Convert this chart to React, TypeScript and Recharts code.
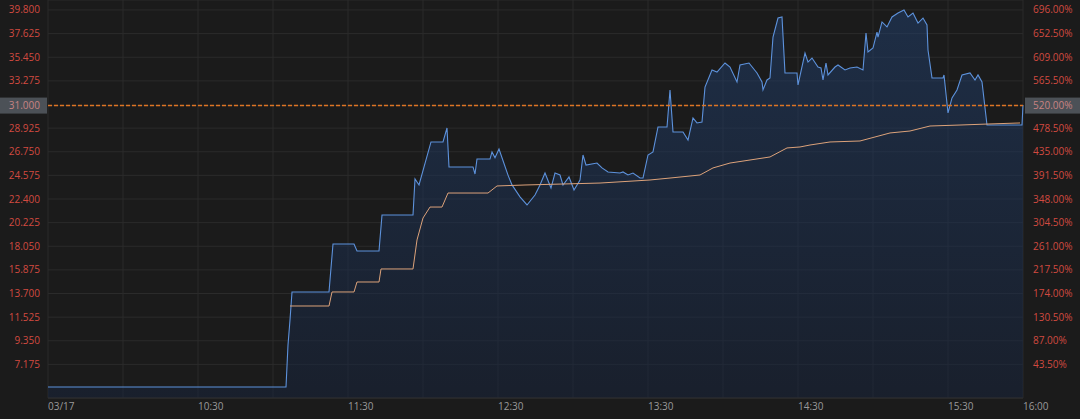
import React from 'react';
import { ComposedChart, Area, Line, XAxis, YAxis, CartesianGrid } from 'recharts';

// prices, time = minutes after 09:30
const priceMinutes = [
  0, 95.2, 96, 96.8, 97.6, 112.4, 114, 122.4, 123.6, 132.4, 133.6, 146, 146.8, 148.4, 153.2, 158,
  159.6, 160.4, 170, 170.8, 171.6, 176.8, 177.6, 178.8, 180.4, 184, 185.6, 188.8, 191.6, 194.8,
  196.8, 198.8, 201.2, 202.8, 204.8, 206, 208.4, 210.4, 212.8, 214, 215.2, 219.6, 221.6, 224,
  228.8, 230, 232, 234, 236.8, 238, 240, 242, 244, 247.6, 248.8, 250, 254, 256, 258, 259.6, 261.6,
  262.8, 265.6, 267.6, 270.8, 272.8, 275.6, 276.8, 280.4, 283.6, 285.6, 286, 287.6, 288.8, 290,
  292, 293.6, 294.8, 299.6, 300, 302.8, 304, 305.6, 308, 309.2, 310, 311.2, 312, 314.8, 316,
  318.8, 320.8, 323.6, 326, 327.2, 328, 330, 331.6, 332, 333.6, 335.6, 337.6, 340, 342.4, 344,
  346, 348, 350, 351.6, 352, 353.6, 358, 358.4, 360, 361.6, 363.6, 365.6, 368.8, 370.8, 372,
  373.6, 375.6, 389.6, 390,
];
const priceValues = [
  5.09, 5.09, 8.96, 11.26, 13.84, 13.84, 18.26, 18.26, 17.61, 17.61, 20.93, 20.93, 24.24, 23.69,
  27.65, 27.65, 28.94, 25.35, 25.35, 24.7, 26.08, 26.08, 26.73, 26.19, 27.0, 24.6, 23.7, 22.6,
  21.85, 22.77, 23.69, 24.79, 23.41, 24.79, 24.61, 23.69, 24.43, 23.23, 24.15, 26.45, 25.53,
  25.71, 25.26, 24.89, 24.79, 24.89, 24.61, 24.79, 24.33, 24.33, 26.45, 26.73, 29.03, 29.03,
  32.44, 28.57, 28.57, 27.83, 29.86, 29.4, 29.49, 32.71, 34.28, 34.09, 34.92, 34.55, 33.17,
  34.74, 34.92, 34.0, 33.17, 32.44, 33.36, 33.54, 37.31, 39.06, 39.16, 34.0, 34.0, 32.9, 35.84,
  35.01, 35.38, 34.55, 34.46, 33.36, 34.92, 33.82, 34.55, 34.74, 34.28, 34.46, 34.55, 34.28,
  37.68, 35.93, 36.3, 37.77, 37.31, 38.7, 38.24, 39.16, 39.52, 39.8, 39.16, 39.52, 38.6, 39.06,
  38.42, 36.12, 33.54, 33.54, 33.82, 30.32, 31.7, 32.44, 33.82, 34.0, 33.36, 33.82, 33.17, 29.21,
  29.21, 31.05,
];

// average price line
const avgMinutes = [
  96.8, 112.4, 113.6, 122.4, 123.6, 132.4, 133.2, 146, 147.6, 150, 152.8, 157.6, 160, 176, 179.6,
  190.8, 220.8, 240.8, 248.8, 260.8, 266, 272.8, 288.8, 295.6, 300.8, 304.8, 312.8, 324.8, 330.8,
  336.8, 344.8, 352.8, 364.8, 376.8, 388.8,
];
const avgValues = [
  12.55, 12.55, 13.84, 13.84, 14.76, 14.76, 15.96, 15.96, 18.63, 20.65, 21.66, 21.66, 22.95,
  22.95, 23.6, 23.69, 23.87, 24.15, 24.33, 24.61, 25.26, 25.71, 26.27, 27.1, 27.19, 27.37, 27.65,
  27.74, 28.11, 28.48, 28.66, 29.12, 29.21, 29.31, 29.4,
];

const prevClose = 5.0;
const lastPrice = 31.0;

const priceTicks = [
  7.175, 9.35, 11.525, 13.7, 15.875, 18.05, 20.225, 22.4, 24.575, 26.75, 28.925, 31.0, 33.275,
  35.45, 37.625, 39.8,
];
const timeTicks = [0, 30, 60, 90, 120, 150, 180, 210, 240, 270, 300, 330, 360, 390];
const timeTickLabels = [
  '03/17', '', '10:30', '', '11:30', '', '12:30', '', '13:30', '', '14:30', '', '15:30', '16:00',
];

const FONT = '"Open Sans", "Noto Sans", sans-serif';
const RED = '#d24a40';

// one table, every row also carries the last price for the dashed line
const rows = [
  ...priceMinutes.map((t, i) => ({ t, price: priceValues[i] })),
  ...avgMinutes.map((t, i) => ({ t, avg: avgValues[i] })),
]
  .sort((a, b) => a.t - b.t)
  .map((r) => ({ ...r, last: lastPrice }));

const pct = (v: number) => `${((v / prevClose - 1) * 100).toFixed(2)}%`;

function LeftTick({ x, y, payload }: any) {
  const v = payload.value;
  const hot = v === lastPrice;
  return (
    <g>
      {hot && <rect x={0} y={y - 8} width={47} height={16} fill="#4c5157" />}
      <text x={x} y={y} dy="0.35em" textAnchor="end" fill={hot ? '#c98383' : RED} fontSize={10} fontFamily={FONT}>
        {v.toFixed(3)}
      </text>
    </g>
  );
}

function RightTick({ x, y, payload }: any) {
  const v = payload.value;
  const hot = v === lastPrice;
  return (
    <g>
      {hot && <rect x={1025} y={y - 8} width={55} height={16} fill="#4c5157" />}
      <text x={x} y={y} dy="0.35em" textAnchor="start" fill={hot ? '#c98383' : RED} fontSize={10} fontFamily={FONT}>
        {pct(v)}
      </text>
    </g>
  );
}

function TimeTick({ x, y, payload }: any) {
  const label = timeTickLabels[timeTicks.indexOf(payload.value)];
  if (!label) return null;
  return (
    <text x={x} y={y + 5} dy="0.71em" textAnchor="start" fill="#9a9a9a" fontSize={10} fontFamily={FONT}>
      {label}
    </text>
  );
}

export default function App() {
  const domain: [number, number] = [4.08, 40.72];
  return (
    <div style={{ width: 1080, height: 419, background: '#1b1b1b' }}>
      <style>{'body{margin:0;background:#1b1b1b}'}</style>
      <ComposedChart width={1080} height={419} data={rows} margin={{ top: 0, right: 0, bottom: 0, left: 0 }}>
        <defs>
          <linearGradient id="priceFill" x1="0" y1="0" x2="0" y2="1">
            <stop offset="0%" stopColor="#21406f" stopOpacity={0.85} />
            <stop offset="100%" stopColor="#17243d" stopOpacity={0.85} />
          </linearGradient>
        </defs>
        <CartesianGrid yAxisId="left" stroke="#2b2b2b" strokeWidth={1} />
        <XAxis
          dataKey="t"
          type="number"
          domain={[0, 390]}
          ticks={timeTicks}
          interval={0}
          height={21}
          tickSize={0}
          tickMargin={0}
          axisLine={{ stroke: '#2f2f2f' }}
          tickLine={false}
          tick={<TimeTick />}
        />
        <YAxis
          yAxisId="left"
          orientation="left"
          type="number"
          domain={domain}
          allowDataOverflow
          ticks={priceTicks}
          interval={0}
          width={48}
          tickSize={0}
          tickMargin={8}
          axisLine={false}
          tickLine={false}
          tick={<LeftTick />}
        />
        <YAxis
          yAxisId="right"
          orientation="right"
          type="number"
          domain={domain}
          allowDataOverflow
          ticks={priceTicks}
          interval={0}
          width={57}
          tickSize={0}
          tickMargin={10}
          axisLine={false}
          tickLine={false}
          tick={<RightTick />}
        />
        <Area
          yAxisId="left"
          type="linear"
          dataKey="price"
          stroke="#5d92dc"
          strokeWidth={1.1}
          fill="url(#priceFill)"
          connectNulls
          dot={false}
          activeDot={false}
          isAnimationActive={false}
        />
        <Line
          yAxisId="left"
          type="linear"
          dataKey="avg"
          stroke="#dca27a"
          strokeWidth={1}
          connectNulls
          dot={false}
          activeDot={false}
          isAnimationActive={false}
        />
        <Line
          yAxisId="left"
          type="linear"
          dataKey="last"
          stroke="#dd7524"
          strokeWidth={1.5}
          strokeDasharray="4 2"
          dot={false}
          activeDot={false}
          isAnimationActive={false}
        />
      </ComposedChart>
    </div>
  );
}
